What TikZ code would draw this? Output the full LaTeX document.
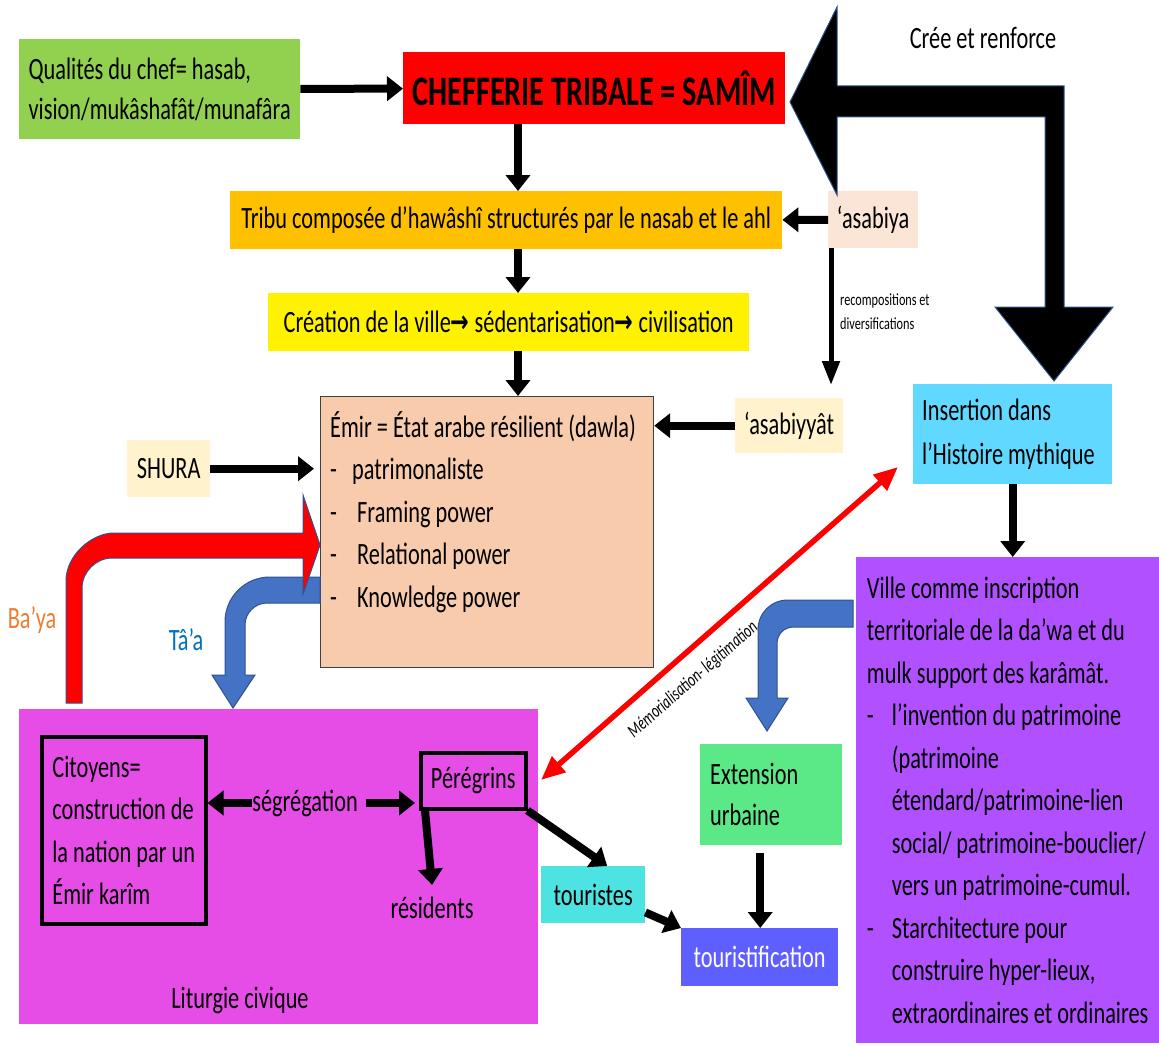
\documentclass[tikz,border=0pt]{standalone}
\usepackage{fontspec}
\setmainfont{Carlito}[FakeStretch=0.72]
\newfontfamily\arrowfont{DejaVu Sans}[FakeStretch=0.72]
\usepackage{xcolor}
\usepackage{tikz}
\usetikzlibrary{positioning,arrows.meta}
\definecolor{chefgreen}{RGB}{146,208,80}
\definecolor{tribeorange}{RGB}{255,192,0}
\definecolor{asabpeach}{RGB}{251,229,214}
\definecolor{emirpeach}{RGB}{248,203,173}
\definecolor{cream}{RGB}{255,242,204}
\definecolor{mythcyan}{RGB}{97,216,255}
\definecolor{villepurple}{RGB}{176,80,255}
\definecolor{liturgymag}{RGB}{230,76,230}
\definecolor{touristcyan}{RGB}{77,227,227}
\definecolor{extgreen}{RGB}{90,233,134}
\definecolor{tourifblue}{RGB}{95,95,255}
\definecolor{arrowblue}{RGB}{68,114,196}
\definecolor{arrowedge}{RGB}{47,82,143}
\definecolor{bayaorange}{RGB}{237,125,49}
\definecolor{taablue}{RGB}{0,112,192}
\tikzset{
  box/.style={anchor=north west, inner sep=0pt, align=left, font=\fontsize{31}{42.5}\selectfont},
  txt/.style={inner sep=0pt, align=left, font=\fontsize{31}{42.5}\selectfont},
  smalltxt/.style={inner sep=0pt, align=left, font=\fontsize{17}{24}\selectfont},
  boxframe/.style={draw=black, line width=3.5pt},
  arr/.style={-{Triangle[length=16pt,width=24pt]}, line width=8pt},
  thinarr/.style={-{Triangle[length=24pt,width=17pt]}, line width=5pt},
  memo/.style={{Triangle[length=24pt,width=20pt]}-{Triangle[length=24pt,width=20pt]}, line width=5.5pt, draw=red},
  blockarrow/.style={draw=arrowedge, line width=1pt},
}
\begin{document}
\begin{tikzpicture}[x=1pt,y=-1pt]
  \useasboundingbox (0,0) rectangle (1159,1046);
  % tribe and city chain
  \node[box, fill=chefgreen, minimum width=281, minimum height=100, font=\fontsize{31}{40}\selectfont] (qual) at (19,39) {Qualités du chef= hasab,\\vision/mukâshafât/munafâra};
  \node[box, fill=red, minimum width=382, minimum height=72, align=center, font=\fontsize{42}{48}\selectfont\bfseries] (samim) at (403,52) {CHEFFERIE TRIBALE = SAMÎM};
  \node[box, fill=tribeorange, minimum width=552, minimum height=58] (tribu) at (230,191) {Tribu composée d’hawâshî structurés par le nasab et le ahl};
  \node[box, fill=asabpeach, minimum width=90, minimum height=57] (asab) at (828,191) {‘asabiya};
  \node[box, fill=yellow, minimum width=481, minimum height=58] (civil) at (268,293) {Création de la ville{\arrowfont\bfseries →} sédentarisation{\arrowfont\bfseries →} civilisation};
  \node[box, fill=emirpeach, draw=black!75, line width=1.2pt, minimum width=333, minimum height=271] (emir) at (320,396) {};
  \node[txt, anchor=west] (emirtxt) at (330,512) {Émir = État arabe résilient (dawla)\\
    \makebox[22pt][l]{-}patrimonaliste\\
    \makebox[27pt][l]{-}Framing power\\
    \makebox[27pt][l]{-}Relational power\\
    \makebox[27pt][l]{-}Knowledge power};
  \node[box, fill=cream, minimum width=108, minimum height=55] (asabs) at (735,398) {‘asabiyyât};
  \node[box, fill=cream, minimum width=83, minimum height=57] (shura) at (127,440) {SHURA};
  % right column
  \node[box, fill=mythcyan, minimum width=199, minimum height=100, text width=181, inner xsep=9pt, align=flush left, font=\fontsize{31}{44}\selectfont] (myth) at (913,384) {Insertion dans\\l’Histoire mythique};
  \node[box, fill=villepurple, minimum width=303, minimum height=486] (ville) at (856,557) {Ville comme inscription\\
    territoriale de la da’wa et du\\
    mulk support des karâmât.\\
    \makebox[25pt][l]{-}l’invention du patrimoine\\
    \hspace*{25pt}(patrimoine\\
    \hspace*{25pt}étendard/patrimoine-lien\\
    \hspace*{25pt}social/ patrimoine-bouclier/\\
    \hspace*{25pt}vers un patrimoine-cumul.\\
    \makebox[25pt][l]{-}Starchitecture pour\\
    \hspace*{25pt}construire hyper-lieux,\\
    \hspace*{25pt}extraordinaires et ordinaires};
  % civic liturgy
  \node[box, fill=liturgymag, minimum width=519, minimum height=315] (litu) at (19,709) {};
  \node[txt] (litutxt) at (240,1000) {Liturgie civique};
  \node[box, boxframe, minimum width=164, minimum height=187] (citoy) at (40,735) {Citoyens=\\construction de\\la nation par un\\Émir karîm};
  \node[box, boxframe, minimum width=105, minimum height=56, align=center] (pereg) at (419,751) {Pérégrins};
  \node[txt] (segr) at (305,803) {ségrégation};
  \node[txt] (resid) at (432,908) {résidents};
  \node[box, fill=touristcyan, minimum width=104, minimum height=57] (tour) at (541,866) {touristes};
  \node[box, fill=extgreen, minimum width=142, minimum height=101, text width=122, inner xsep=10pt, align=flush left, font=\fontsize{31}{41}\selectfont] (ext) at (700,744) {Extension\\urbaine};
  \node[box, fill=tourifblue, minimum width=157, minimum height=58, text=white] (tourif) at (681,928) {touristification};
  % labels
  \node[txt] (cree) at (983,38) {Crée et renforce};
  \node[smalltxt, anchor=west] (recomp) at (840,312) {recompositions et\\diversifications};
  \node[txt, text=bayaorange] (baya) at (32,620) {Ba’ya};
  \node[txt, text=taablue] (taa) at (186,640) {Tâ’a};

  % block arrows
  \filldraw[blockarrow, fill=black] (790,102) -- (837,7) -- (837,86) -- (1064,86) -- (1064,307) -- (1113,307) -- (1054,381) -- (995,307) -- (1045,307) -- (1045,117) -- (837,117) -- (837,195) -- cycle;
  \filldraw[blockarrow, fill=arrowblue] (320,577) -- (270,577) .. controls (245,577) and (225,597) .. (225,622) -- (225,675) -- (212,675) -- (233,708) -- (255,675) -- (245,675) -- (245,625) .. controls (245,613) and (255,603) .. (267,603) -- (320,603) -- cycle;
  \filldraw[blockarrow, fill=red] (66,703) -- (66,581) .. controls (66,555) and (92,533) .. (114,533) -- (303,533) -- (303,495) -- (320,545) -- (303,594) -- (303,558) -- (112,558) .. controls (96,558) and (82,572) .. (82,588) -- (82,703) -- cycle;
  \filldraw[blockarrow, fill=arrowblue] (853,600) -- (788,600) .. controls (771,600) and (758,613) .. (758,630) -- (758,698) -- (746,698) -- (767,731) -- (788,698) -- (777,698) -- (777,644) .. controls (777,634) and (784,627) .. (794,627) -- (853,627) -- cycle;

  % connectors
  \coordinate (spine) at (518,0);
  \draw[arr] (qual) -- (samim);
  \draw[arr] (samim.south -| spine) -- (tribu.north -| spine);
  \draw[arr] (tribu.south -| spine) -- (civil.north -| spine);
  \draw[arr] (civil.south -| spine) -- (emir.north -| spine);
  \draw[arr] (asab) -- (tribu);
  \draw[thinarr, shorten >=13pt] ([xshift=3pt]asab.south west) -- ([xshift=3pt]asab.south west |- asabs.north);
  \draw[arr] (asabs) -- (emir.east |- asabs.west);
  \draw[arr, shorten >=6pt] (shura) -- (emir.west |- shura.east);
  \draw[arr] (myth) -- (ville.north -| myth.south);
  \draw[arr] (segr) -- (citoy.east |- segr.west);
  \draw[arr, shorten <=8pt, shorten >=4pt] (segr) -- (pereg.west |- segr.east);
  \draw[arr] ([xshift=6pt]pereg.south west) -- ([yshift=12pt]resid.north);
  \draw[arr] (pereg.south east) -- ([xshift=14pt]tour.north);
  \draw[arr] ([yshift=11pt]tour.south east) -- (tourif.north west);
  \draw[arr, shorten <=8pt] ([xshift=-11pt]ext.south) -- ([xshift=-11pt]ext.south |- tourif.north);
  \coordinate (memA) at (541,780);
  \coordinate (memB) at (898,467);
  \draw[memo] (memA) -- (memB) node[pos=0.38, sloped, below=14pt, inner sep=0pt, font=\fontsize{19}{22}\selectfont\itshape, text=black] (memlbl) {Mémorialisation- légitimation};
\end{tikzpicture}
\end{document}
